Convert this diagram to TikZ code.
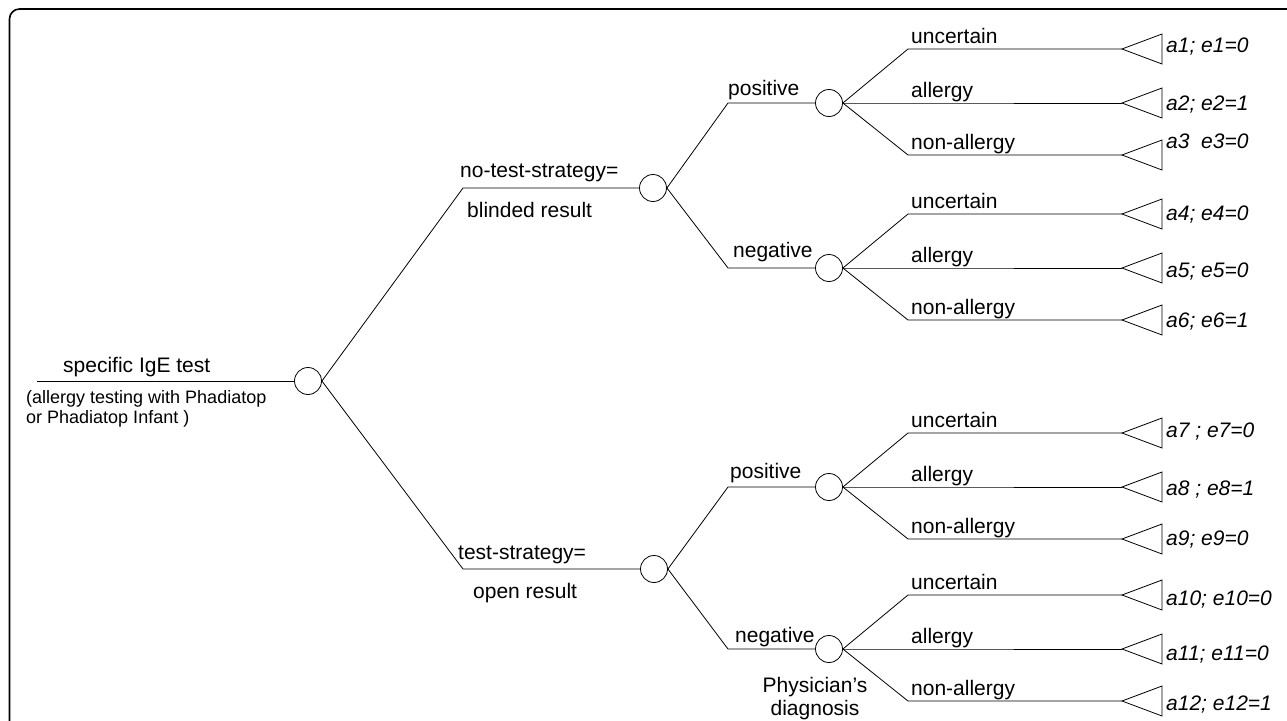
\documentclass[tikz,border=0pt]{standalone}
\usepackage{fontspec}
\setmainfont{Liberation Sans}
\begin{document}
\begin{tikzpicture}[x=1pt,y=-1pt,
  txt/.style={font=\fontsize{21}{25}\selectfont, inner sep=0pt, anchor=base west},
  smalltxt/.style={font=\fontsize{18}{21}\selectfont, inner sep=0pt, anchor=base west},
  pay/.style={font=\fontsize{21}{25}\selectfont\itshape, inner sep=0pt, anchor=base west},
  chance/.style={circle, draw, minimum size=27pt, inner sep=0pt, line width=0.8pt},
  branch/.style={line width=0.8pt},
  term/.style={line width=0.8pt},
  framebox/.style={line width=1.6pt, rounded corners=10pt}]
\useasboundingbox (0,0) rectangle (1287,720);
\draw[framebox] (9.5,780) -- (9.5,9) -- (1320,9);

% root
\coordinate (s0) at (37,381);
\node[chance] (c0) at (308,381) {};
\draw[branch] (s0) -- (c0);
\node[txt] (t0) at (63,372) {specific IgE test};
\node[smalltxt] (t0a) at (26,403) {(allergy testing with Phadiatop};
\node[smalltxt] (t0b) at (26,423) {or Phadiatop Infant )};

% strategy level
\coordinate (k1) at (463,188);
\coordinate (k2) at (463,569);
\node[chance] (c1) at (653,188) {};
\node[chance] (c2) at (654,569) {};
\draw[branch] (c0.east) -- (k1) -- (c1);
\draw[branch] (c0.east) -- (k2) -- (c2);
\node[txt] (t1a) at (460,177) {no-test-strategy=};
\node[txt] (t1b) at (467,217) {blinded result};
\node[txt] (t2a) at (458,559) {test-strategy=};
\node[txt] (t2b) at (473,598) {open result};

% test result level
\coordinate (k11) at (728,103);
\coordinate (k12) at (728,268);
\coordinate (k21) at (728,487);
\coordinate (k22) at (728,649);
\node[chance] (c11) at (829,103) {};
\node[chance] (c12) at (829,268) {};
\node[chance] (c21) at (829,487) {};
\node[chance] (c22) at (829,649) {};
\draw[branch] (c1.east) -- (k11) -- (c11);
\draw[branch] (c1.east) -- (k12) -- (c12);
\draw[branch] (c2.east) -- (k21) -- (c21);
\draw[branch] (c2.east) -- (k22) -- (c22);
\node[txt] (t11) at (728,95) {positive};
\node[txt] (t12) at (733,257) {negative};
\node[txt] (t21) at (730,478) {positive};
\node[txt] (t22) at (735,642) {negative};
\node[txt, anchor=base] (phys1) at (815,692) {Physician’s};
\node[txt, anchor=base] (phys2) at (815,715) {diagnosis};

% outcomes
\foreach \g/\cy in {11/103,12/268,21/487,22/649}{
  \foreach \i/\off/\lab in {1/-54/uncertain,2/0/allergy,3/52/non-allergy}{
    \coordinate (o\g\i) at (908,{\cy+(\off)});
    \coordinate (p\g\i) at (1122,{\cy+(\off)});
    \draw[branch] (c\g.east) -- (o\g\i) -- (p\g\i);
    \draw[term] (p\g\i) -- ++(40,-15) -- ++(0,30) -- cycle;
    \node[txt] (l\g\i) at (911,{\cy+(\off)-6}) {\lab};
  }
}

% payoffs
\node[pay] (a1) at (1166,52) {a1; e1=0};
\node[pay] (a2) at (1166,110) {a2; e2=1};
\node[pay] (a3) at (1166,148) {a3\ \ e3=0};
\node[pay] (a4) at (1166,220) {a4; e4=0};
\node[pay] (a5) at (1166,277) {a5; e5=0};
\node[pay] (a6) at (1166,327) {a6; e6=1};
\node[pay] (a7) at (1166,437) {a7 ; e7=0};
\node[pay] (a8) at (1166,495) {a8 ; e8=1};
\node[pay] (a9) at (1166,545) {a9; e9=0};
\node[pay] (a10) at (1166,605) {a10; e10=0};
\node[pay] (a11) at (1166,660) {a11; e11=0};
\node[pay] (a12) at (1166,710) {a12; e12=1};
\end{tikzpicture}
\end{document}
